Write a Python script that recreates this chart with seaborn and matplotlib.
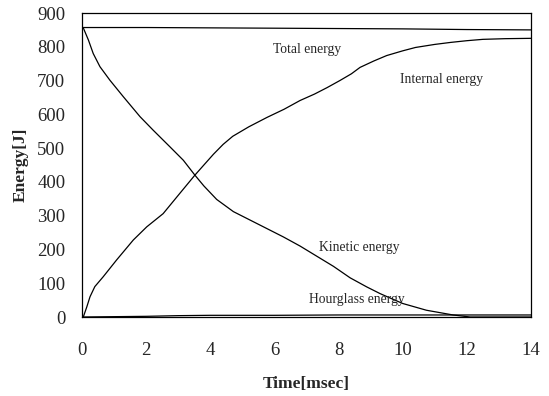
import matplotlib
matplotlib.use("Agg")
import matplotlib.pyplot as plt
import seaborn as sns
import pandas as pd

sns.set_style("white")
plt.rcParams['font.family'] = ['Liberation Serif', 'DejaVu Serif']

# Time [msec]
t_total = [0.0, 2.0, 4.0, 6.0, 8.0, 10.0, 12.0, 14.0]
e_total = [857, 857, 856, 855, 854, 853, 851, 850]

t_internal = [0.04, 0.15, 0.25, 0.4, 0.66, 1.08, 1.6, 2.02, 2.53, 3.05, 3.52, 3.8, 4.1,
              4.4, 4.7, 5.2, 5.77, 6.3, 6.8, 7.25, 7.64, 8.04, 8.4, 8.67, 9.1, 9.5, 10.0,
              10.4, 11.0, 11.5, 12.0, 12.5, 13.2, 14.0]
e_internal = [0, 30, 60, 90, 119, 169, 228, 267, 306, 366, 420, 450, 482,
              511, 535, 563, 591, 615, 641, 660, 679, 700, 720, 739, 758, 774, 788,
              798, 807, 813, 818, 822, 824, 825]

t_kinetic = [0.04, 0.2, 0.35, 0.56, 0.87, 1.29, 1.81, 2.22, 2.74, 3.16, 3.52, 3.8,
             4.2, 4.72, 5.24, 5.76, 6.28, 6.8, 7.32, 7.84, 8.36, 8.88, 9.3, 10.0, 10.74,
             11.57, 12.1, 13.0, 14.0]
e_kinetic = [856, 820, 780, 741, 701, 652, 593, 553, 504, 464, 420, 388,
             348, 312, 287, 262, 237, 210, 180, 150, 116, 89, 69, 40, 20,
             6, 0, 0, 0]

t_hourglass = [0.0, 1.0, 2.0, 3.0, 4.0, 6.0, 8.0, 10.0, 12.0, 14.0]
e_hourglass = [0, 1, 2, 4, 5, 5, 6, 6, 6, 6]

labels = ["Total energy", "Internal energy", "Kinetic energy", "Hourglass energy"]
label_x = [307, 442, 359, 357]
label_y = [50, 80, 247, 300]

frames = []
for name, tt, ee in [("Total", t_total, e_total), ("Internal", t_internal, e_internal),
                     ("Kinetic", t_kinetic, e_kinetic), ("Hourglass", t_hourglass, e_hourglass)]:
    frames.append(pd.DataFrame({"Time": tt, "Energy": ee, "Series": name}))
df = pd.concat(frames, ignore_index=True)

fig = plt.figure(figsize=(5.49, 3.96), dpi=100)
ax = fig.add_axes([82/549, 1-317/396, (531-82)/549, (317-13)/396])

sns.lineplot(data=df, x="Time", y="Energy", units="Series", estimator=None,
             color="black", linewidth=0.9, ax=ax, legend=False, sort=False)

ax.set_xlim(0, 14)
ax.set_ylim(0, 900)
ax.set_xticks(range(0, 15, 2))
ax.set_yticks(range(0, 901, 100))
ax.tick_params(axis="x", labelsize=13.5, pad=18, length=0)
ax.tick_params(axis="y", labelsize=13.5, pad=12, length=0)
for s in ax.spines.values():
    s.set_color("black")
    s.set_linewidth(0.9)

ax.set_xlabel("Time[msec]", fontsize=12.5, fontweight="bold", labelpad=12)
ax.set_ylabel("Energy[J]", fontsize=12.5, fontweight="bold", labelpad=6)

# text labels positioned in pixel coordinates converted to data coordinates
for lab, px, py in zip(labels, label_x, label_y):
    xd = (px - 82) / (531 - 82) * 14
    yd = (317 - py) / (317 - 13) * 900
    ax.text(xd, yd, lab, fontsize=9.8, ha="center", va="center")

fig.savefig("out.png", dpi=100)
